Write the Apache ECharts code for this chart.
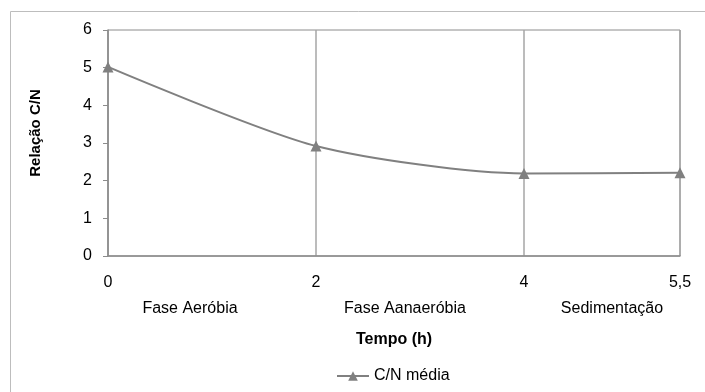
<!DOCTYPE html>
<html>
<head>
<meta charset="utf-8">
<script src="https://cdn.jsdelivr.net/npm/echarts@6/dist/echarts.min.js"></script>
<style>
  html, body { margin: 0; padding: 0; background: #fff; }
  #chart { width: 705px; height: 392px; }
</style>
</head>
<body>
<div id="chart"></div>
<script>
// tempo (h) e relação C/N média
var tempo = [0, 2, 4, 5.5]
var cnMedia = [5.02, 2.92, 2.19, 2.21]
var fases = ['Fase Aeróbia', 'Fase Aanaeróbia', 'Sedimentação']
var fasePosX = [190, 405, 612] // centro do texto em px

var myChart = echarts.init(document.getElementById('chart'))
var font = 'Liberation Sans, Arial, sans-serif'

var graphics = [
  // moldura externa do gráfico
  {
    type: 'rect',
    shape: { x: 10.5, y: 11.5, width: 700, height: 390 },
    style: { fill: 'none', stroke: '#bdbdbd', lineWidth: 1 },
    silent: true
  }
]
fases.forEach(function (f, i) {
  graphics.push({
    type: 'text',
    x: fasePosX[i],
    y: 309,
    style: {
      text: f,
      fontFamily: font,
      fontSize: 16,
      fill: '#000',
      align: 'center',
      verticalAlign: 'middle'
    }
  })
})

var option = {
  animation: false,
  textStyle: { fontFamily: font },
  graphic: graphics,
  grid: {
    left: 108,
    top: 30,
    right: 25,
    bottom: 136,
    show: true,
    borderColor: '#8c8c8c',
    borderWidth: 1
  },
  legend: {
    bottom: 3,
    left: 331,
    itemWidth: 32,
    itemHeight: 12,
    itemGap: 4,
    textStyle: { color: '#000', fontSize: 16, fontFamily: font },
    data: ['C/N média']
  },
  xAxis: {
    type: 'value',
    min: 0,
    max: 5.5,
    interval: 2,
    name: 'Tempo (h)',
    nameLocation: 'middle',
    nameGap: 76,
    nameTextStyle: { color: '#000', fontWeight: 'bold', fontSize: 16, fontFamily: font },
    axisLine: { lineStyle: { color: '#8c8c8c', width: 1.5 } },
    axisTick: { show: false },
    axisLabel: {
      color: '#000',
      fontSize: 16,
      margin: 19,
      formatter: function (v) { return String(v).replace('.', ',') }
    },
    splitLine: { show: true, lineStyle: { color: '#a6a6a6', width: 1.5 } }
  },
  yAxis: {
    type: 'value',
    min: 0,
    max: 6,
    interval: 1,
    name: 'Relação C/N',
    nameLocation: 'middle',
    nameGap: 65,
    nameTextStyle: {
      color: '#000', fontWeight: 'bold', fontSize: 15, fontFamily: font,
      padding: [0, 0, 0, 20]
    },
    axisLine: { show: true, lineStyle: { color: '#8c8c8c', width: 1.5 } },
    axisTick: { show: true, inside: false, length: 5, lineStyle: { color: '#8c8c8c' } },
    axisLabel: { color: '#000', fontSize: 16, margin: 16 },
    splitLine: { show: false }
  },
  series: [
    {
      name: 'C/N média',
      type: 'line',
      smooth: 0.25,
      symbol: 'triangle',
      symbolSize: 11,
      lineStyle: { color: '#808080', width: 2 },
      itemStyle: { color: '#808080' },
      data: tempo.map(function (t, i) { return [t, cnMedia[i]] })
    }
  ]
}
myChart.setOption(option)
</script>
</body>
</html>
